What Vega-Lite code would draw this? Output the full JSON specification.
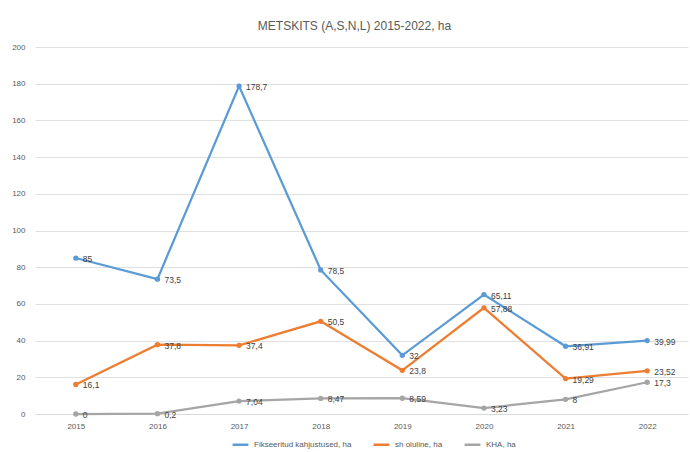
{
  "$schema": "https://vega.github.io/schema/vega-lite/v6.json",
  "autosize": {"type": "fit", "contains": "padding"},
  "width": 690,
  "height": 452,
  "padding": {"left": 11, "right": 2, "top": 20, "bottom": 22},
  "background": "white",
  "config": {
    "locale": {"number": {"decimal": ",", "thousands": " ", "grouping": [3], "currency": ["", " €"]}},
    "font": "Liberation Sans",
    "view": {"stroke": null}
  },
  "title": {"text": "METSKITS (A,S,N,L) 2015-2022, ha", "fontSize": 12, "fontWeight": "normal", "color": "#595959", "font": "Liberation Sans", "offset": 10, "dx": -7},
  "data": {"values": [
    {"year": "2015", "series": "Fikseeritud kahjustused, ha", "value": 85},
    {"year": "2016", "series": "Fikseeritud kahjustused, ha", "value": 73.5},
    {"year": "2017", "series": "Fikseeritud kahjustused, ha", "value": 178.7},
    {"year": "2018", "series": "Fikseeritud kahjustused, ha", "value": 78.5},
    {"year": "2019", "series": "Fikseeritud kahjustused, ha", "value": 32},
    {"year": "2020", "series": "Fikseeritud kahjustused, ha", "value": 65.11},
    {"year": "2021", "series": "Fikseeritud kahjustused, ha", "value": 36.91},
    {"year": "2022", "series": "Fikseeritud kahjustused, ha", "value": 39.99},
    {"year": "2015", "series": "sh oluline, ha", "value": 16.1},
    {"year": "2016", "series": "sh oluline, ha", "value": 37.8},
    {"year": "2017", "series": "sh oluline, ha", "value": 37.4},
    {"year": "2018", "series": "sh oluline, ha", "value": 50.5},
    {"year": "2019", "series": "sh oluline, ha", "value": 23.8},
    {"year": "2020", "series": "sh oluline, ha", "value": 57.88},
    {"year": "2021", "series": "sh oluline, ha", "value": 19.29},
    {"year": "2022", "series": "sh oluline, ha", "value": 23.52},
    {"year": "2015", "series": "KHA, ha", "value": 0},
    {"year": "2016", "series": "KHA, ha", "value": 0.2},
    {"year": "2017", "series": "KHA, ha", "value": 7.04},
    {"year": "2018", "series": "KHA, ha", "value": 8.47},
    {"year": "2019", "series": "KHA, ha", "value": 8.59},
    {"year": "2020", "series": "KHA, ha", "value": 3.23},
    {"year": "2021", "series": "KHA, ha", "value": 8},
    {"year": "2022", "series": "KHA, ha", "value": 17.3}
  ]},
  "encoding": {
    "x": {"field": "year", "type": "ordinal", "scale": {"type": "point", "padding": 0.5},
      "axis": {"title": null, "labelAngle": 0, "ticks": false, "domainColor": "#d9d9d9", "labelColor": "#595959", "labelFontSize": 8, "labelPadding": 8, "grid": false}},
    "y": {"field": "value", "type": "quantitative", "scale": {"domain": [0, 200], "nice": false},
      "axis": {"title": null, "values": [0,20,40,60,80,100,120,140,160,180,200], "labelOverlap": false, "domain": false, "ticks": false, "labelColor": "#595959", "labelFontSize": 8, "labelPadding": 10, "gridColor": "#e0e0e0", "format": "d"}},
    "color": {"field": "series", "type": "nominal",
      "scale": {"domain": ["Fikseeritud kahjustused, ha", "sh oluline, ha", "KHA, ha"], "range": ["#5b9bd5", "#ed7d31", "#a5a5a5"]},
      "legend": {"title": null, "orient": "none", "legendX": 196, "legendY": 388, "direction": "horizontal", "symbolType": "stroke", "symbolStrokeWidth": 2.5, "symbolSize": 250, "labelFontSize": 8, "labelColor": "#595959", "columnPadding": 16, "labelLimit": 300}}
  },
  "layer": [
    {"mark": {"type": "line", "strokeWidth": 2.25, "point": {"filled": true, "size": 28}}},
    {"mark": {"type": "text", "align": "left", "dx": 7, "dy": 1, "fontSize": 8.5, "color": "#404040"},
      "encoding": {"text": {"field": "value", "type": "quantitative", "format": "~r"}, "color": {"value": "#404040"}}}
  ]
}
